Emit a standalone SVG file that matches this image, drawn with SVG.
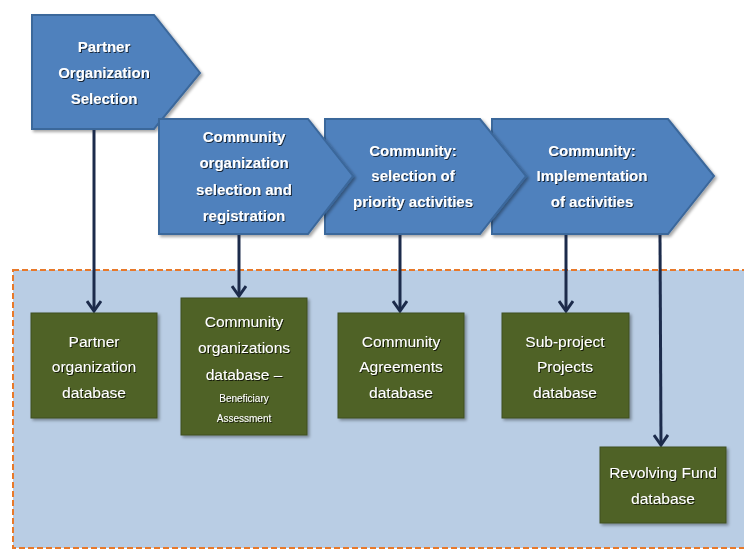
<svg xmlns="http://www.w3.org/2000/svg" width="744" height="550" viewBox="0 0 744 550">
<defs>
<filter id="sh" x="-10%" y="-10%" width="130%" height="130%"><feDropShadow dx="2" dy="2" stdDeviation="1.5" flood-color="#000" flood-opacity="0.35"/></filter>
<filter id="ts" x="-10%" y="-30%" width="130%" height="160%"><feDropShadow dx="1" dy="1" stdDeviation="0.6" flood-color="#000" flood-opacity="0.7"/></filter>
<marker id="ah" viewBox="0 0 14 16" refX="12" refY="8" markerWidth="14" markerHeight="16" markerUnits="userSpaceOnUse" orient="auto">
<path d="M2,1 L12,8 L2,15" fill="none" stroke="#1c2b4b" stroke-width="3" stroke-linejoin="miter"/>
</marker>
</defs>
<style>
.pent{fill:#4f81bd;stroke:#3b679b;stroke-width:2;filter:url(#sh)}
.db{fill:#4f6228;stroke:#3f4f1f;stroke-width:1;filter:url(#sh)}
.pt{font-family:"Liberation Sans",Arial,sans-serif;font-weight:bold;font-size:15px;fill:#fff;text-anchor:middle;filter:url(#ts)}
.dt{font-family:"Liberation Sans",Arial,sans-serif;font-size:15.5px;fill:#fff;text-anchor:middle;filter:url(#ts)}
.st{font-family:"Liberation Sans",Arial,sans-serif;font-size:10px;fill:#fff;text-anchor:middle;filter:url(#ts)}
.conn{stroke:#1c2b4b;stroke-width:3;fill:none}
</style>
<rect x="0" y="0" width="744" height="550" fill="#fff"/>
<rect id="zone" x="13" y="270" width="740" height="278" fill="#b9cde4" stroke="#e8792a" stroke-width="2" stroke-dasharray="6,3"/>

<g id="step1">
<path class="pent" d="M32,15 L154,15 L200,73 L154,129 L32,129 Z"/>
<text class="pt" x="104" y="52">Partner</text>
<text class="pt" x="104" y="78">Organization</text>
<text class="pt" x="104" y="104">Selection</text>
</g>
<g id="step4">
<path class="pent" d="M492,119 L668,119 L714,176 L668,234 L492,234 Z"/>
<text class="pt" x="592" y="156">Community:</text>
<text class="pt" x="592" y="181">Implementation</text>
<text class="pt" x="592" y="207">of activities</text>
</g>
<g id="step3">
<path class="pent" d="M325,119 L480,119 L526,176 L480,234 L325,234 Z"/>
<text class="pt" x="413" y="156">Community:</text>
<text class="pt" x="413" y="181">selection of</text>
<text class="pt" x="413" y="207">priority activities</text>
</g>
<g id="step2">
<path class="pent" d="M159,119 L308,119 L353,176 L308,234 L159,234 Z"/>
<text class="pt" x="244" y="142">Community</text>
<text class="pt" x="244" y="168">organization</text>
<text class="pt" x="244" y="195">selection and</text>
<text class="pt" x="244" y="221">registration</text>
</g>

<g id="connectors">
<line class="conn" x1="94" y1="130" x2="94" y2="311" marker-end="url(#ah)"/>
<line class="conn" x1="239" y1="235" x2="239" y2="296" marker-end="url(#ah)"/>
<line class="conn" x1="400" y1="235" x2="400" y2="311" marker-end="url(#ah)"/>
<line class="conn" x1="566" y1="235" x2="566" y2="311" marker-end="url(#ah)"/>
<line class="conn" x1="660" y1="235" x2="661" y2="445" marker-end="url(#ah)"/>
</g>

<g id="db1">
<rect class="db" x="31" y="313" width="126" height="105"/>
<text class="dt" x="94" y="347">Partner</text>
<text class="dt" x="94" y="372">organization</text>
<text class="dt" x="94" y="398">database</text>
</g>
<g id="db2">
<rect class="db" x="181" y="298" width="126" height="137"/>
<text class="dt" x="244" y="327">Community</text>
<text class="dt" x="244" y="353">organizations</text>
<text class="dt" x="244" y="380">database –</text>
<text class="st" x="244" y="402">Beneficiary</text>
<text class="st" x="244" y="422">Assessment</text>
</g>
<g id="db3">
<rect class="db" x="338" y="313" width="126" height="105"/>
<text class="dt" x="401" y="347">Community</text>
<text class="dt" x="401" y="372">Agreements</text>
<text class="dt" x="401" y="398">database</text>
</g>
<g id="db4">
<rect class="db" x="502" y="313" width="127" height="105"/>
<text class="dt" x="565" y="347">Sub-project</text>
<text class="dt" x="565" y="372">Projects</text>
<text class="dt" x="565" y="398">database</text>
</g>
<g id="db5">
<rect class="db" x="600" y="447" width="126" height="76"/>
<text class="dt" x="663" y="478">Revolving Fund</text>
<text class="dt" x="663" y="504">database</text>
</g>
</svg>
